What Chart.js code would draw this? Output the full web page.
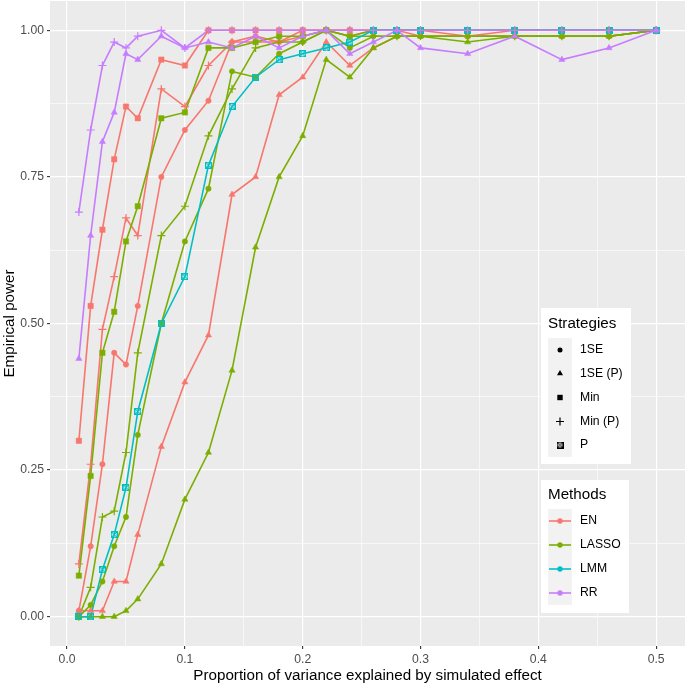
<!DOCTYPE html>
<html><head><meta charset="utf-8">
<script src="https://cdn.jsdelivr.net/npm/chart.js@4/dist/chart.umd.min.js"></script>
<style>html,body{margin:0;padding:0;background:#fff;}#wrap{width:685px;height:685px;position:relative;}</style>
</head><body><div id="wrap"><canvas id="c" width="685" height="685"></canvas></div>
<script>
// ---------- data ----------
const xVals = [0.01,0.02,0.03,0.04,0.05,0.06,0.08,0.10,0.12,0.14,0.16,0.18,0.20,0.22,0.24,0.26,0.28,0.30,0.34,0.38,0.42,0.46,0.50];

const EN_1SE     = [0.01,0.12,0.26,0.45,0.43,0.53,0.75,0.83,0.88,0.98,0.99,0.98,1.00,1.00,0.99,1.00,1.00,0.99,0.99,0.99,0.99,0.99,1.00];
const EN_1SE_P   = [0.01,0.01,0.01,0.06,0.06,0.14,0.29,0.40,0.48,0.72,0.75,0.89,0.92,0.98,0.94,0.97,0.99,0.99,0.99,0.99,0.99,0.99,1.00];
const EN_Min     = [0.30,0.53,0.66,0.78,0.87,0.85,0.95,0.94,1.00,1.00,1.00,1.00,1.00,1.00,1.00,1.00,1.00,1.00,1.00,1.00,1.00,1.00,1.00];
const EN_Min_P   = [0.09,0.26,0.49,0.58,0.68,0.65,0.90,0.87,0.94,0.98,0.98,0.98,0.99,1.00,1.00,1.00,1.00,1.00,0.99,1.00,1.00,1.00,1.00];

const LASSO_1SE   = [0.00,0.02,0.06,0.12,0.17,0.31,0.50,0.64,0.73,0.93,0.92,0.96,0.98,1.00,0.97,0.99,0.99,0.99,0.99,0.99,0.99,0.99,1.00];
const LASSO_1SE_P = [0.00,0.00,0.00,0.00,0.01,0.03,0.09,0.20,0.28,0.42,0.63,0.75,0.82,0.95,0.92,0.97,0.99,0.99,0.98,0.99,0.99,0.99,1.00];
const LASSO_Min   = [0.07,0.24,0.45,0.52,0.64,0.70,0.85,0.86,0.97,0.97,0.98,0.99,0.99,1.00,0.99,1.00,1.00,1.00,1.00,1.00,1.00,1.00,1.00];
const LASSO_Min_P = [0.00,0.05,0.17,0.18,0.28,0.45,0.65,0.70,0.82,0.90,0.97,0.98,0.98,1.00,0.99,0.99,0.99,0.99,0.99,0.99,0.99,0.99,1.00];

const LMM_P       = [0.00,0.00,0.08,0.14,0.22,0.35,0.50,0.58,0.77,0.87,0.92,0.95,0.96,0.97,0.98,1.00,1.00,1.00,1.00,1.00,1.00,1.00,1.00];

const RR_1SE_P    = [0.44,0.65,0.81,0.86,0.96,0.95,0.99,0.97,0.98,0.97,0.99,0.97,0.99,1.00,0.96,0.98,1.00,0.97,0.96,0.99,0.95,0.97,1.00];
const RR_Min_P    = [0.69,0.83,0.94,0.98,0.97,0.99,1.00,0.97,1.00,1.00,1.00,1.00,1.00,1.00,1.00,1.00,1.00,1.00,1.00,1.00,1.00,1.00,1.00];

const xTickValues = [0,0.1,0.2,0.3,0.4,0.5];
const xTickLabels = ['0.0','0.1','0.2','0.3','0.4','0.5'];
const xMinorValues = [0.05,0.15,0.25,0.35,0.45];
const yTickValues = [0,0.25,0.5,0.75,1];
const yTickLabels = ['0.00','0.25','0.50','0.75','1.00'];
const yMinorValues = [0.125,0.375,0.625,0.875];

const methodNames = ['EN','LASSO','LMM','RR'];
const strategyNames = ['1SE','1SE (P)','Min','Min (P)','P'];
const xTitle = 'Proportion of variance explained by simulated effect';
const yTitle = 'Empirical power';

const series = [
  {m:'EN', s:'1SE', v:EN_1SE}, {m:'EN', s:'1SE (P)', v:EN_1SE_P}, {m:'EN', s:'Min', v:EN_Min}, {m:'EN', s:'Min (P)', v:EN_Min_P},
  {m:'LASSO', s:'1SE', v:LASSO_1SE}, {m:'LASSO', s:'1SE (P)', v:LASSO_1SE_P}, {m:'LASSO', s:'Min', v:LASSO_Min}, {m:'LASSO', s:'Min (P)', v:LASSO_Min_P},
  {m:'LMM', s:'P', v:LMM_P},
  {m:'RR', s:'1SE (P)', v:RR_1SE_P}, {m:'RR', s:'Min (P)', v:RR_Min_P}
];

// ---------- styles ----------
const FONT = '"Liberation Sans", Arial, Helvetica, sans-serif';
const TITLE_SIZE = 15.2;
const TEXT_SIZE = 12.2;
const methodColors = {EN:'#F8766D', LASSO:'#7CAE00', LMM:'#00BFC4', RR:'#C77CFF'};

function makeBoxCross(color, size){
  const c = document.createElement('canvas');
  c.width = size; c.height = size;
  const g = c.getContext('2d');
  g.strokeStyle = color; g.lineWidth = 1.3;
  g.strokeRect(0.65,0.65,size-1.3,size-1.3);
  g.lineWidth = 1;
  g.beginPath(); g.moveTo(1,1); g.lineTo(size-1,size-1); g.moveTo(size-1,1); g.lineTo(1,size-1); g.stroke();
  return c;
}

function pointCfg(strategy, color){
  switch(strategy){
    case '1SE': return {pointStyle:'circle', pointRadius:2.7, pointBackgroundColor:color, pointBorderColor:color, pointBorderWidth:0.5};
    case '1SE (P)': return {pointStyle:'triangle', pointRadius:3.6, pointBackgroundColor:color, pointBorderColor:color, pointBorderWidth:0.5};
    case 'Min': return {pointStyle:'rect', pointRadius:3.8, pointBackgroundColor:color, pointBorderColor:color, pointBorderWidth:0.5};
    case 'Min (P)': return {pointStyle:'cross', pointRadius:4, pointBackgroundColor:color, pointBorderColor:color, pointBorderWidth:1.2};
    case 'P': return {pointStyle:makeBoxCross(color,7), pointRadius:3.5, pointBackgroundColor:color, pointBorderColor:color, pointBorderWidth:1};
  }
}

const datasets = [];
series.forEach(sr => {
  const mi = methodNames.indexOf(sr.m);
  const color = methodColors[sr.m];
  const data = xVals.map((x,i)=>({x:x, y:sr.v[i]}));
  datasets.push({label:sr.m+' '+sr.s+' line', data:data, showLine:true, borderColor:color, borderWidth:1.6,
    pointRadius:0, pointHoverRadius:0, fill:false, order:100 - mi*10 + 50});
  datasets.push(Object.assign({label:sr.m+' '+sr.s, data:data, showLine:false, order:10 - mi}, pointCfg(sr.s,color)));
});

function isMajor(v, list){ return list.some(t=>Math.abs(t-v)<1e-9); }
function labelFor(v, vals, labs){ const i = vals.findIndex(t=>Math.abs(t-v)<1e-9); return i>=0 ? labs[i] : ''; }

// ---------- shapes for legend ----------
function drawShape(ctx, strategy, x, y, color){
  ctx.save();
  ctx.fillStyle = color; ctx.strokeStyle = color;
  if(strategy==='1SE'){ ctx.beginPath(); ctx.arc(x,y,2.5,0,Math.PI*2); ctx.fill(); }
  else if(strategy==='1SE (P)'){ const r=3.5; ctx.beginPath();
    ctx.moveTo(x, y - r); ctx.lineTo(x + r*0.866, y + r*0.5); ctx.lineTo(x - r*0.866, y + r*0.5); ctx.closePath(); ctx.fill(); }
  else if(strategy==='Min'){ ctx.fillRect(x-2.7,y-2.7,5.4,5.4); }
  else if(strategy==='Min (P)'){ ctx.lineWidth=1.2; ctx.beginPath(); ctx.moveTo(x-4,y); ctx.lineTo(x+4,y); ctx.moveTo(x,y-4); ctx.lineTo(x,y+4); ctx.stroke(); }
  else if(strategy==='P'){ ctx.drawImage(makeBoxCross(color,7), x-3.5, y-3.5); }
  ctx.restore();
}

const decor = {
  id:'decor',
  beforeDraw(chart){
    const {ctx, chartArea:a} = chart;
    ctx.save();
    ctx.fillStyle = '#EBEBEB';
    ctx.fillRect(a.left, a.top, a.right-a.left, a.bottom-a.top);
    ctx.restore();
  },
  afterDraw(chart){
    const {ctx, chartArea:a} = chart;
    ctx.save();
    // axis titles
    ctx.fillStyle = '#000';
    ctx.font = TITLE_SIZE + 'px ' + FONT;
    ctx.textAlign = 'center'; ctx.textBaseline = 'middle';
    ctx.fillText(xTitle, (a.left+a.right)/2, 676);
    ctx.save();
    ctx.translate(10, (a.top+a.bottom)/2);
    ctx.rotate(-Math.PI/2);
    ctx.fillText(yTitle, 0, 0);
    ctx.restore();

    // Strategies legend
    const lx = 541;
    ctx.fillStyle = '#fff';
    ctx.fillRect(lx, 308, 90, 156);
    ctx.fillStyle = '#F2F2F2';
    ctx.fillRect(548, 338, 24, 119);
    ctx.fillStyle = '#000';
    ctx.textAlign = 'left';
    ctx.font = TITLE_SIZE + 'px ' + FONT;
    ctx.fillText('Strategies', 548, 324);
    ctx.font = TEXT_SIZE + 'px ' + FONT;
    const sY = [350, 373.5, 397.5, 421.5, 445];
    strategyNames.forEach((s,i)=>{
      drawShape(ctx, s, 560, sY[i], '#000');
      ctx.fillStyle = '#000';
      ctx.fillText(s, 580, sY[i]);
    });

    // Methods legend
    ctx.fillStyle = '#fff';
    ctx.fillRect(lx, 480, 88, 133);
    ctx.fillStyle = '#F2F2F2';
    ctx.fillRect(548, 509, 24, 96);
    ctx.fillStyle = '#000';
    ctx.font = TITLE_SIZE + 'px ' + FONT;
    ctx.fillText('Methods', 548, 495);
    ctx.font = TEXT_SIZE + 'px ' + FONT;
    const mY = [521, 545, 569, 593];
    methodNames.forEach((m,i)=>{
      const col = methodColors[m];
      ctx.strokeStyle = col; ctx.lineWidth = 1.6;
      ctx.beginPath(); ctx.moveTo(549, mY[i]); ctx.lineTo(571, mY[i]); ctx.stroke();
      ctx.fillStyle = col;
      ctx.beginPath(); ctx.arc(560, mY[i], 2.7, 0, Math.PI*2); ctx.fill();
      ctx.fillStyle = '#000';
      ctx.fillText(m, 580, mY[i]);
    });
    ctx.restore();
  }
};

new Chart(document.getElementById('c'), {
  type:'scatter',
  data:{datasets:datasets},
  options:{
    responsive:false, animation:false,
    layout:{autoPadding:false, padding:{top:1,right:0,bottom:0,left:0}},
    plugins:{legend:{display:false}, tooltip:{enabled:false}},
    events:[],
    scales:{
      x:{type:'linear', min:-0.0145, max:0.5245,
        afterBuildTicks:s=>{ s.ticks = xTickValues.concat(xMinorValues).sort((a,b)=>a-b).map(v=>({value:v})); },
        afterFit:s=>{ s.height = 39; s.paddingLeft = 0; s.paddingRight = 0; },
        ticks:{autoSkip:false, maxRotation:0, minRotation:0, color:'#4D4D4D', font:{family:FONT,size:TEXT_SIZE}, padding:3,
          callback:v=>labelFor(v, xTickValues, xTickLabels)},
        grid:{color:'#FFFFFF', lineWidth:c=> (c.tick && isMajor(c.tick.value,xTickValues)) ? 1.2 : 0.6,
          tickLength:3, tickWidth:1.1, tickColor:c=> (c.tick && isMajor(c.tick.value,xTickValues)) ? '#333333' : 'rgba(0,0,0,0)'},
        border:{display:false}
      },
      y:{type:'linear', min:-0.05, max:1.05,
        afterBuildTicks:s=>{ s.ticks = yTickValues.concat(yMinorValues).sort((a,b)=>a-b).map(v=>({value:v})); },
        afterFit:s=>{ s.width = 50; s.paddingTop = 0; s.paddingBottom = 0; },
        ticks:{autoSkip:false, color:'#4D4D4D', font:{family:FONT,size:TEXT_SIZE}, padding:3,
          callback:v=>labelFor(v, yTickValues, yTickLabels)},
        grid:{color:'#FFFFFF', lineWidth:c=> (c.tick && isMajor(c.tick.value,yTickValues)) ? 1.2 : 0.6,
          tickLength:3, tickWidth:1.1, tickColor:c=> (c.tick && isMajor(c.tick.value,yTickValues)) ? '#333333' : 'rgba(0,0,0,0)'},
        border:{display:false}
      }
    }
  },
  plugins:[decor]
});
</script></body></html>
